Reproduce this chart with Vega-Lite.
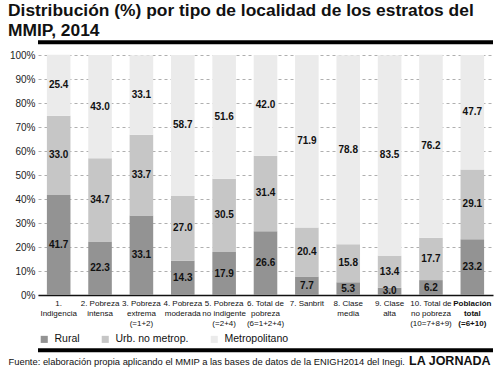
{
  "$schema": "https://vega.github.io/schema/vega-lite/v6.json",
  "width": 455,
  "height": 240,
  "autosize": "none",
  "padding": {"left": 38, "top": 55, "right": 7, "bottom": 72},
  "background": "white",
  "config": {
    "view": {"stroke": null},
    "font": "Liberation Sans",
    "axisY": {
      "labelFont": "Liberation Sans",
      "labelFontSize": 10,
      "labelColor": "#222222",
      "labelPadding": 3,
      "labelOverlap": false,
      "labelFlush": false,
      "ticks": false,
      "domain": false,
      "grid": true,
      "gridColor": "#9a9a9a",
      "gridDash": [3, 3],
      "gridWidth": 0.8,
      "tickCount": 11
    }
  },
  "title": {
    "text": ["Distribución (%) por tipo de localidad de los estratos del", "MMIP, 2014"],
    "anchor": "start",
    "frame": "group",
    "dx": -30,
    "offset": 1,
    "fontSize": 17.4,
    "font": "Liberation Sans",
    "fontWeight": "bold",
    "color": "#111111",
    "lineHeight": 20
  },
  "data": {
    "values": [
      {"c": "1.|Indigencia", "i": 1, "t": "Rural", "o": 1, "v": 41.7},
      {"c": "1.|Indigencia", "i": 1, "t": "Urb. no metrop.", "o": 2, "v": 33.0},
      {"c": "1.|Indigencia", "i": 1, "t": "Metropolitano", "o": 3, "v": 25.4},
      {"c": "2. Pobreza|intensa", "i": 2, "t": "Rural", "o": 1, "v": 22.3},
      {"c": "2. Pobreza|intensa", "i": 2, "t": "Urb. no metrop.", "o": 2, "v": 34.7},
      {"c": "2. Pobreza|intensa", "i": 2, "t": "Metropolitano", "o": 3, "v": 43.0},
      {"c": "3. Pobreza|extrema|(=1+2)", "i": 3, "t": "Rural", "o": 1, "v": 33.1},
      {"c": "3. Pobreza|extrema|(=1+2)", "i": 3, "t": "Urb. no metrop.", "o": 2, "v": 33.7},
      {"c": "3. Pobreza|extrema|(=1+2)", "i": 3, "t": "Metropolitano", "o": 3, "v": 33.1},
      {"c": "4. Pobreza|moderada", "i": 4, "t": "Rural", "o": 1, "v": 14.3},
      {"c": "4. Pobreza|moderada", "i": 4, "t": "Urb. no metrop.", "o": 2, "v": 27.0},
      {"c": "4. Pobreza|moderada", "i": 4, "t": "Metropolitano", "o": 3, "v": 58.7},
      {"c": "5. Pobreza|no indigente|(=2+4)", "i": 5, "t": "Rural", "o": 1, "v": 17.9},
      {"c": "5. Pobreza|no indigente|(=2+4)", "i": 5, "t": "Urb. no metrop.", "o": 2, "v": 30.5},
      {"c": "5. Pobreza|no indigente|(=2+4)", "i": 5, "t": "Metropolitano", "o": 3, "v": 51.6},
      {"c": "6. Total de|pobreza|(6=1+2+4)", "i": 6, "t": "Rural", "o": 1, "v": 26.6},
      {"c": "6. Total de|pobreza|(6=1+2+4)", "i": 6, "t": "Urb. no metrop.", "o": 2, "v": 31.4},
      {"c": "6. Total de|pobreza|(6=1+2+4)", "i": 6, "t": "Metropolitano", "o": 3, "v": 42.0},
      {"c": "7. Sanbrit", "i": 7, "t": "Rural", "o": 1, "v": 7.7},
      {"c": "7. Sanbrit", "i": 7, "t": "Urb. no metrop.", "o": 2, "v": 20.4},
      {"c": "7. Sanbrit", "i": 7, "t": "Metropolitano", "o": 3, "v": 71.9},
      {"c": "8. Clase|media", "i": 8, "t": "Rural", "o": 1, "v": 5.3},
      {"c": "8. Clase|media", "i": 8, "t": "Urb. no metrop.", "o": 2, "v": 15.8},
      {"c": "8. Clase|media", "i": 8, "t": "Metropolitano", "o": 3, "v": 78.8},
      {"c": "9. Clase|alta", "i": 9, "t": "Rural", "o": 1, "v": 3.0},
      {"c": "9. Clase|alta", "i": 9, "t": "Urb. no metrop.", "o": 2, "v": 13.4},
      {"c": "9. Clase|alta", "i": 9, "t": "Metropolitano", "o": 3, "v": 83.5},
      {"c": "10. Total de|no pobreza|(10=7+8+9)", "i": 10, "t": "Rural", "o": 1, "v": 6.2},
      {"c": "10. Total de|no pobreza|(10=7+8+9)", "i": 10, "t": "Urb. no metrop.", "o": 2, "v": 17.7},
      {"c": "10. Total de|no pobreza|(10=7+8+9)", "i": 10, "t": "Metropolitano", "o": 3, "v": 76.2},
      {"c": "Población|total|(=6+10)", "i": 11, "t": "Rural", "o": 1, "v": 23.2},
      {"c": "Población|total|(=6+10)", "i": 11, "t": "Urb. no metrop.", "o": 2, "v": 29.1},
      {"c": "Población|total|(=6+10)", "i": 11, "t": "Metropolitano", "o": 3, "v": 47.7}
    ]
  },
  "transform": [
    {"stack": "v", "groupby": ["c"], "sort": [{"field": "o", "order": "ascending"}], "as": ["y0", "y1"]},
    {"calculate": "(datum.y0 + datum.y1) / 2", "as": "mid"}
  ],
  "resolve": {"axis": {"x": "independent"}},
  "layer": [
    {
      "mark": {"type": "bar"},
      "encoding": {
        "x": {
          "field": "c",
          "type": "nominal",
          "sort": {"field": "i", "op": "min"},
          "scale": {"paddingInner": 0.43, "paddingOuter": 0.215},
          "axis": {
            "orient": "bottom",
            "title": "Fuente: elaboración propia aplicando el MMIP a las bases de datos de la ENIGH2014 del Inegi.",
            "titleFont": "Liberation Sans",
            "titleFontSize": 9.4,
            "titleFontWeight": "normal",
            "titleColor": "#111111",
            "titleAnchor": "start",
            "titleAlign": "left",
            "titleBaseline": "alphabetic",
            "titleX": -30,
            "titleY": 69,
            "labelExpr": "split(datum.label, '|')",
            "labelAngle": 0,
            "labelAlign": "center",
            "labelBaseline": "top",
            "labelPadding": 4,
            "labelLineHeight": 10,
            "labelFont": "Liberation Sans",
            "labelFontSize": 8,
            "labelColor": "#111111",
            "labelFontWeight": {"condition": {"test": "indexof(datum.value, 'Población') == 0", "value": "bold"}, "value": "normal"},
            "labelOverlap": false,
            "labelFlush": false,
            "labelLimit": 200,
            "ticks": false,
            "domain": true,
            "domainColor": "#111111",
            "domainWidth": 1.5,
            "grid": false
          }
        },
        "y": {
          "field": "y0",
          "type": "quantitative",
          "scale": {"domain": [0, 100], "nice": false},
          "axis": {"title": null, "values": [0, 10, 20, 30, 40, 50, 60, 70, 80, 90, 100], "labelExpr": "datum.value + '%'"}
        },
        "y2": {"field": "y1"},
        "color": {
          "field": "t",
          "type": "nominal",
          "scale": {"domain": ["Rural", "Urb. no metrop.", "Metropolitano"], "range": ["#939393", "#c6c6c6", "#ebebeb"]},
          "legend": {
            "orient": "none",
            "legendX": 1,
            "legendY": 279,
            "direction": "horizontal",
            "title": null,
            "symbolType": "square",
            "symbolSize": 50,
            "symbolStrokeWidth": 0,
            "symbolOpacity": 1,
            "labelFont": "Liberation Sans",
            "labelFontSize": 10.5,
            "labelColor": "#111111",
            "labelOffset": 5,
            "columnPadding": 20
          }
        }
      }
    },
    {
      "mark": {"type": "text", "font": "Liberation Sans", "fontWeight": "bold", "fontSize": 10, "color": "#111111", "baseline": "middle"},
      "encoding": {
        "x": {
          "field": "c",
          "type": "nominal",
          "sort": {"field": "i", "op": "min"},
          "axis": {
            "orient": "bottom",
            "title": "LA JORNADA",
            "titleFont": "Liberation Sans",
            "titleFontSize": 12.5,
            "titleFontWeight": "bold",
            "titleColor": "#111111",
            "titleAlign": "right",
            "titleAnchor": "end",
            "titleBaseline": "alphabetic",
            "titleX": 452,
            "titleY": 69,
            "labels": false,
            "ticks": false,
            "domain": false,
            "grid": false
          }
        },
        "y": {
          "field": "mid",
          "type": "quantitative",
          "axis": {"title": null, "values": [0, 10, 20, 30, 40, 50, 60, 70, 80, 90, 100], "labelExpr": "datum.value + '%'"}
        },
        "text": {"field": "v", "type": "quantitative", "format": ".1f"}
      }
    },
    {
      "data": {"values": [{"p": 105.3}, {"p": -23}]},
      "mark": {"type": "rule", "strokeWidth": 4, "color": "#000000"},
      "encoding": {
        "y": {
          "field": "p",
          "type": "quantitative",
          "axis": {"title": null, "values": [0, 10, 20, 30, 40, 50, 60, 70, 80, 90, 100], "labelExpr": "datum.value + '%'"}
        }
      }
    }
  ]
}
